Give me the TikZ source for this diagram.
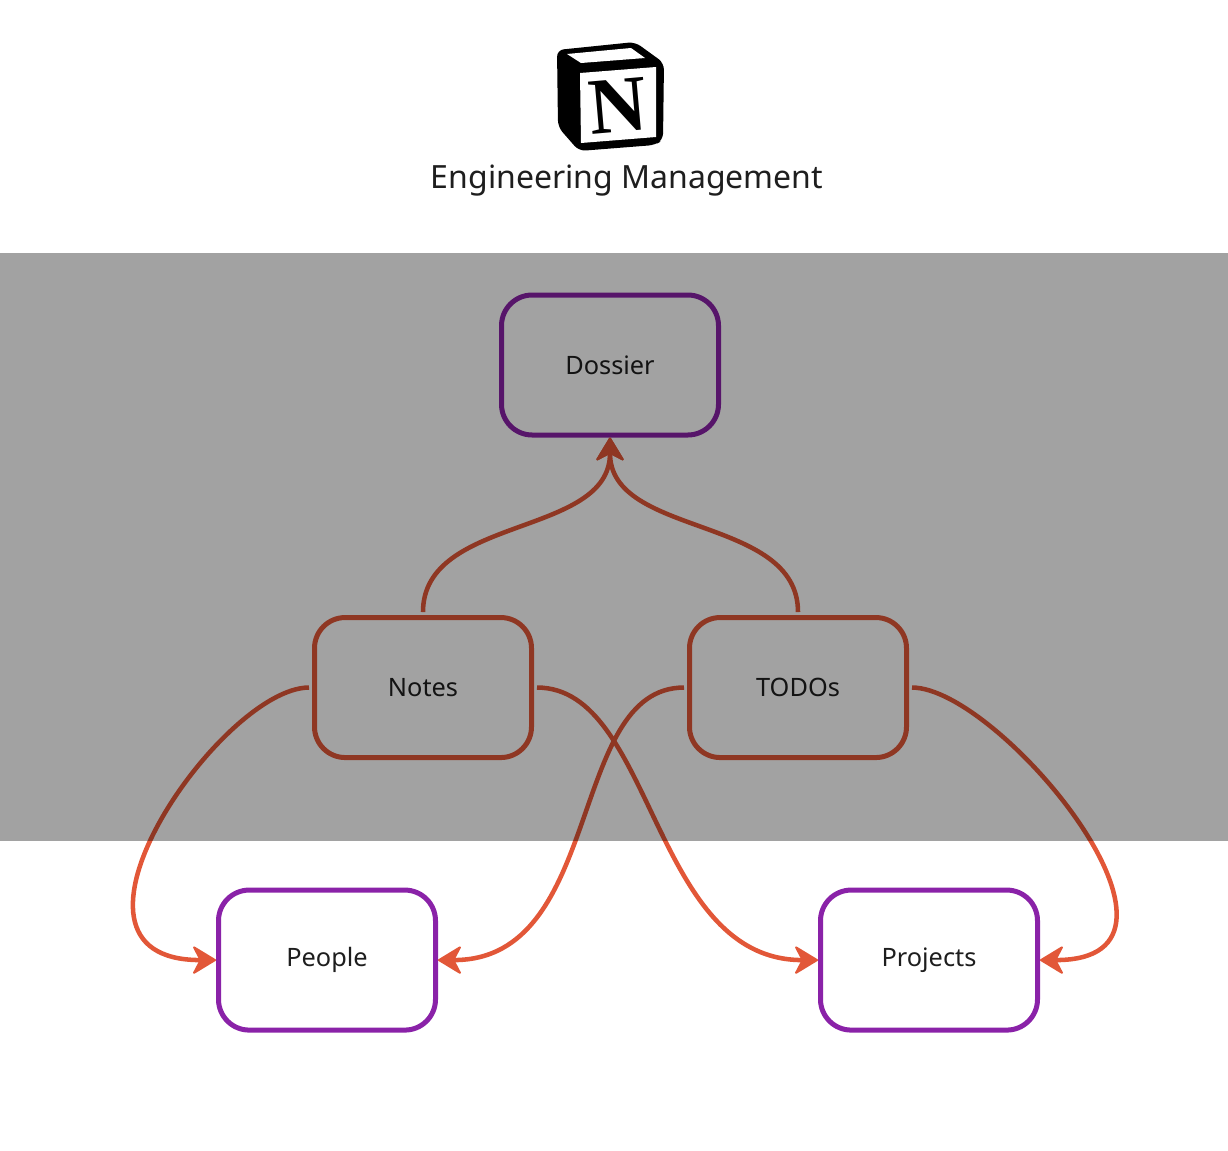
\documentclass[tikz,border=0pt]{standalone}
\usepackage{fontspec}
\setmainfont{Noto Sans}
\newfontfamily\logofont{Liberation Serif}
\usetikzlibrary{arrows.meta, positioning}
\definecolor{ember}{HTML}{E25738}
\definecolor{plum}{HTML}{8A22A8}
\definecolor{ink}{HTML}{1E1E1E}

\begin{document}
\begin{tikzpicture}
    [
        x=0.75pt,y=-0.75pt,
        >={Stealth[length=19pt,width=23pt,inset=6pt,line width=1.5pt,round]},
        box/.style={draw, rounded corners=23pt, line width=3.75pt, minimum width=162.75pt, minimum height=105pt, text=ink, font=\fontsize{19}{23}\selectfont},
        doc/.style={box, draw=plum},
        src/.style={box, draw=ember}
    ]
    \tikzstyle{line} = [draw, ember, line width=3.4pt, ->, shorten <=2.25pt]
    \useasboundingbox (0,0) rectangle (1228,1150);

    % Logo
    \begin{scope}
        \fill[black, rounded corners=5pt] (557,50) -- (635,42) -- (664,63) -- (663,140) -- (655,145) -- (579,151) -- (558,127) -- cycle;
        \fill[white] (567,54) -- (631,48) -- (645,58) -- (581,63) -- cycle;
        \fill[white] (580,73) -- (656,67) -- (656,137) -- (581,143) -- cycle;
        \node[rotate=5, font=\logofont\bfseries\fontsize{60}{60}\selectfont] (letter) at (618,106) {N};
    \end{scope}
    \node[text=ink, font=\fontsize{24}{29}\selectfont] (title) at (627,181) {Engineering Management};

    % Boxes
    \node[doc] (dossier) at (610,365) {Dossier};
    \node[src, below of=dossier, node distance=241.9pt, xshift=-140.25pt] (notes) {Notes};
    \node[src, below of=dossier, node distance=241.9pt, xshift=141pt] (todos) {TODOs};
    \node[doc, below of=notes, node distance=204.4pt, xshift=-72pt] (people) {People};
    \node[doc, below of=todos, node distance=204.4pt, xshift=98.25pt] (projects) {Projects};

    % Connectors
    \path[line] (notes.north) to[out=90, in=-90, out distance=75pt, in distance=75pt] (dossier.south);
    \path[line] (todos.north) to[out=90, in=-90, out distance=75pt, in distance=75pt] (dossier.south);
    \path[line] (notes.west) to[out=180, in=180, out distance=68pt, in distance=138pt] (people.west);
    \path[line] (notes.east) to[out=0, in=180, out distance=90pt, in distance=125pt] (projects.west);
    \path[line] (todos.west) to[out=180, in=0, out distance=90pt, in distance=125pt] (people.east);
    \path[line] (todos.east) to[out=0, in=0, out distance=68pt, in distance=138pt] (projects.east);

    % Grey band lies over the middle of the drawing
    \fill[black, opacity=0.365] (0,253) rectangle (1228,841);
\end{tikzpicture}
\end{document}
